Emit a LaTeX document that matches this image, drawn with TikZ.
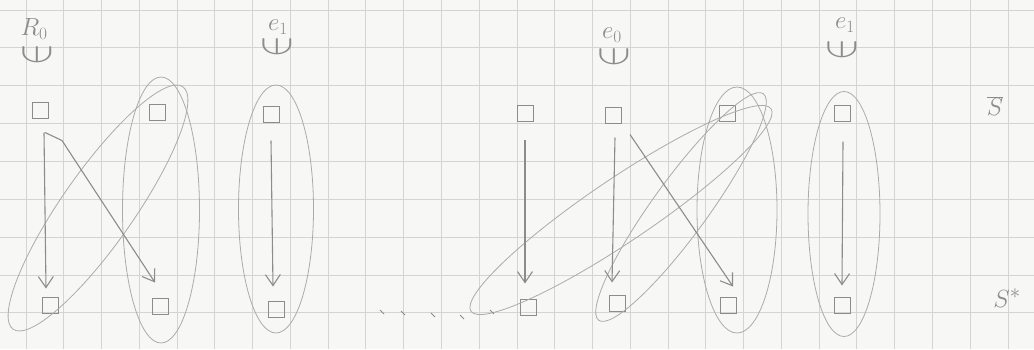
\documentclass[tikz,border=0pt]{standalone}
\usetikzlibrary{shapes.geometric,arrows.meta,calc}
\definecolor{paper}{HTML}{F7F7F5}
\definecolor{gridc}{HTML}{D4D4D4}
\definecolor{pencil}{HTML}{8C8C8C}
\definecolor{pencilL}{HTML}{ABABAB}
\tikzset{
  box/.style={draw=pencil, line width=1pt, minimum size=16pt, inner sep=0pt},
  grp/.style={draw=pencilL, ellipse, line width=0.8pt, inner sep=0pt},
  arr/.style={draw=pencil, line width=1.1pt, -{Straight Barb[length=11pt,width=15pt]}},
  lbl/.style={text=pencil, font=\fontsize{26}{28}\selectfont, inner sep=0pt},
  elem/.style={text=pencil, font=\fontsize{30}{32}\selectfont, inner sep=0pt, rotate=90},
  tick/.style={draw=pencil, line width=0.9pt},
}
\begin{document}
\begin{tikzpicture}[x=1pt,y=-1pt]
\fill[paper] (0,0) rectangle (1034,349);
\useasboundingbox (0,0) rectangle (1034,349);
\foreach \i in {0,...,26} \draw[gridc, line width=0.9pt] ({26+37.77*\i},0) -- ({26+37.77*\i},349);
\foreach \j in {0,...,8} \draw[gridc, line width=0.9pt] (0,{10+37.85*\j}) -- (1034,{10+37.85*\j});

% labels
\node[lbl] (lR0) at (34,29) {$R_0$};
\node[elem] (m1) at (37,55) {\scalebox{1.3}[2.0]{$\in$}};
\node[lbl] (le1a) at (278,27) {$e_1$};
\node[elem] (m2) at (277,47) {\scalebox{1.3}[2.0]{$\in$}};
\node[lbl] (le0) at (612,35) {$e_0$};
\node[elem] (m3) at (614,57) {\scalebox{1.3}[2.0]{$\in$}};
\node[lbl] (le1b) at (845,25) {$e_1$};
\node[elem] (m4) at (842,50) {\scalebox{1.3}[2.0]{$\in$}};
\node[lbl, font=\fontsize{30}{32}\selectfont] (Sbar) at (995,106) {$\overline{S}$};
\node[lbl, font=\fontsize{30}{32}\selectfont] (Sstar) at (1007,298) {$S^{*}$};

% squares
\node[box] (a1) at (40,110) {};
\node[box] (a2) at (50,305) {};
\node[box] (b1) at (157,112) {};
\node[box] (b2) at (160,306) {};
\node[box] (c1) at (271,114) {};
\node[box] (c2) at (276,309) {};
\node[box] (d1) at (525,113) {};
\node[box] (d2) at (528,307) {};
\node[box] (e1) at (613,115) {};
\node[box] (e2) at (617,303) {};
\node[box] (f1) at (727,113) {};
\node[box] (f2) at (728,305) {};
\node[box] (g1) at (842,113) {};
\node[box] (g2) at (842,305) {};

% groups
\node[grp, minimum width=296pt, minimum height=72pt, rotate=55] (G1) at (98,208) {};
\node[grp, minimum width=77pt, minimum height=266pt] (G2) at (161,210) {};
\node[grp, minimum width=75pt, minimum height=248pt] (G3) at (276,209) {};
\node[grp, minimum width=362pt, minimum height=63pt, rotate=34] (G4) at (621,210) {};
\node[grp, minimum width=280pt, minimum height=55pt, rotate=54] (G5) at (681,207) {};
\node[grp, minimum width=80pt, minimum height=246pt] (G6) at (737,210) {};
\node[grp, minimum width=72pt, minimum height=245pt] (G7) at (844,214) {};

% arrows
\draw[arr] ($(a1.south)+(4,14)$) -- ($(a2.north)+(-4,-8)$);
\draw[arr] ($(a1.south)+(5,14)$) -- ++(17,8) -- ($(b2.north)+(-5,-15)$);
\draw[arr] ($(c1.south)+(0,18)$) -- ($(c2.north)+(-3,-14)$);
\draw[arr] ($(d1.south)+(0,18)$) -- ($(d2.north)+(-3,-15)$);
\draw[arr] ($(e1.south)+(2,14)$) -- ($(e2.north)+(-5,-12)$);
\draw[arr] ($(e1.south)+(17,11)$) -- ($(f2.north)+(5,-10)$);
\draw[arr] ($(g1.south)+(1,20)$) -- ($(g2.north)+(0,-11)$);

% dots
\foreach \x/\y in {382/312, 403/313, 433/315, 462/317, 492/312}
  \draw[tick] (\x-2,\y-2) -- (\x+2,\y+2);
\end{tikzpicture}
\end{document}
